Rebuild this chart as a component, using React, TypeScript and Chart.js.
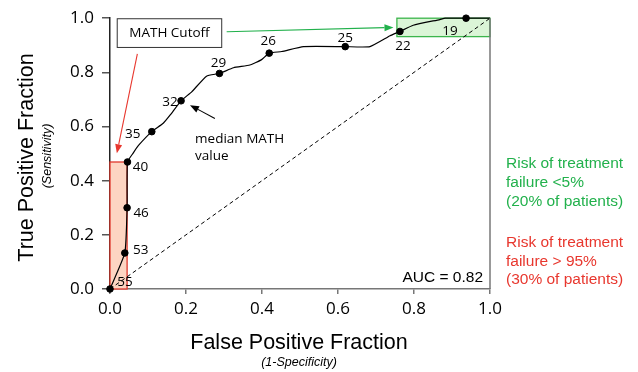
import { useEffect, useRef } from "react";
import { Chart, registerables } from "chart.js";

Chart.register(...registerables);

// ROC curve vertices (False positive fraction, True positive fraction)
const curveX = [0, 0.039, 0.045, 0.046, 0.061, 0.075, 0.11, 0.14, 0.158, 0.187, 0.215, 0.254, 0.288, 0.325, 0.368, 0.399, 0.419, 0.452, 0.509, 0.619, 0.684, 0.737, 0.763, 0.798, 0.868, 0.882, 0.937, 1.0];
const curveY = [0, 0.133, 0.30, 0.469, 0.502, 0.53, 0.581, 0.612, 0.642, 0.695, 0.728, 0.786, 0.796, 0.817, 0.827, 0.847, 0.871, 0.877, 0.895, 0.895, 0.895, 0.935, 0.951, 0.974, 0.995, 1.0, 1.0, 1.0];

// MATH cutoff points
const cutoffLabels = ["55", "53", "46", "40", "35", "32", "29", "26", "25", "22", "19"];
const cutoffX = [0, 0.039, 0.045, 0.046, 0.11, 0.187, 0.288, 0.419, 0.619, 0.763, 0.937];
const cutoffY = [0, 0.133, 0.3, 0.469, 0.581, 0.695, 0.796, 0.871, 0.895, 0.951, 1.0];

// chance line
const diagX = [0, 1];
const diagY = [0, 1];

// shaded zones
const redZoneX = [0, 0.045];
const redZoneY = [0, 0.469];
const greenZoneX = [0.755, 1];
const greenZoneY = [0.932, 1];

const tickValues = [0, 0.2, 0.4, 0.6, 0.8, 1.0];

const xTitle = "False Positive Fraction";
const xSubTitle = "(1-Specificity)";
const yTitle = "True Positive Fraction";
const ySubTitle = "(Sensitivity)";
const aucText = "AUC = 0.82";
const cutoffBoxText = "MATH Cutoff";
const medianText = ["median MATH", "value"];
const greenText = ["Risk of treatment", "failure <5%", "(20% of patients)"];
const redText = ["Risk of treatment", "failure > 95%", "(30% of patients)"];

// label offsets (px) relative to each cutoff point
const labelDx = [15, 16, 14, 13, -19, -11, -1, -1, 0, 3, -16];
const labelDy = [-7, -3, 5, 5, 2, 1, -10, -12, -8, 15, 13];

const SANS = "'Liberation Sans', Arial, sans-serif";
const CAL = "'Open Sans', 'Noto Sans', sans-serif";
const GREEN = "#22b14c";
const RED = "#e8372e";

function arrow(ctx: CanvasRenderingContext2D, x1: number, y1: number, x2: number, y2: number, color: string) {
  const ang = Math.atan2(y2 - y1, x2 - x1);
  const len = 9;
  const hw = 3.5;
  const bx = x2 - len * Math.cos(ang);
  const by = y2 - len * Math.sin(ang);
  ctx.save();
  ctx.strokeStyle = color;
  ctx.fillStyle = color;
  ctx.lineWidth = 1.1;
  ctx.beginPath();
  ctx.moveTo(x1, y1);
  ctx.lineTo(bx, by);
  ctx.stroke();
  ctx.beginPath();
  ctx.moveTo(x2, y2);
  ctx.lineTo(bx + hw * Math.sin(ang), by - hw * Math.cos(ang));
  ctx.lineTo(bx - hw * Math.sin(ang), by + hw * Math.cos(ang));
  ctx.closePath();
  ctx.fill();
  ctx.restore();
}

const decorPlugin = {
  id: "decor",
  beforeDatasetsDraw(chart: any) {
    const ctx = chart.ctx as CanvasRenderingContext2D;
    const xs = chart.scales.x;
    const ys = chart.scales.y;
    const rect = (zx: number[], zy: number[], fill: string, stroke: string) => {
      const x1 = xs.getPixelForValue(zx[0]);
      const x2 = xs.getPixelForValue(zx[1]);
      const y1 = ys.getPixelForValue(zy[1]);
      const y2 = ys.getPixelForValue(zy[0]);
      ctx.save();
      ctx.fillStyle = fill;
      ctx.fillRect(x1, y1, x2 - x1, y2 - y1);
      ctx.strokeStyle = stroke;
      ctx.lineWidth = 1.3;
      ctx.strokeRect(x1, y1, x2 - x1, y2 - y1);
      ctx.restore();
    };
    rect(redZoneX, redZoneY, "#fdd5c2", "#e0392d");
    rect(greenZoneX, greenZoneY, "#dbf5d7", "#3cb54c");
  },
  afterDatasetsDraw(chart: any) {
    const ctx = chart.ctx as CanvasRenderingContext2D;
    const xs = chart.scales.x;
    const ys = chart.scales.y;
    const a = chart.chartArea;
    const px = (v: number) => xs.getPixelForValue(v);
    const py = (v: number) => ys.getPixelForValue(v);

    ctx.save();
    // right border
    ctx.strokeStyle = "#777";
    ctx.lineWidth = 1.5;
    ctx.beginPath();
    ctx.moveTo(a.right, a.top);
    ctx.lineTo(a.right, a.bottom);
    ctx.stroke();

    // cutoff labels
    ctx.fillStyle = "#000";
    ctx.font = `13.5px ${CAL}`;
    ctx.textAlign = "center";
    ctx.textBaseline = "middle";
    cutoffLabels.forEach((t, i) => {
      ctx.fillText(t, px(cutoffX[i]) + labelDx[i], py(cutoffY[i]) + labelDy[i]);
    });

    // MATH Cutoff box
    const bx1 = px(0.019), bx2 = px(0.294), by1 = py(0.998), by2 = py(0.892);
    ctx.fillStyle = "#fff";
    ctx.fillRect(bx1, by1, bx2 - bx1, by2 - by1);
    ctx.strokeStyle = "#333";
    ctx.lineWidth = 1;
    ctx.strokeRect(bx1, by1, bx2 - bx1, by2 - by1);
    ctx.fillStyle = "#000";
    ctx.fillText(cutoffBoxText, (bx1 + bx2) / 2, (by1 + by2) / 2 + 0.5);

    // arrows
    arrow(ctx, px(0.072), py(0.868), px(0.018), py(0.501), RED);
    arrow(ctx, px(0.307), py(0.95), px(0.746), py(0.966), GREEN);
    arrow(ctx, px(0.276), py(0.63), px(0.2105), py(0.679), "#000");

    // median text
    ctx.textAlign = "left";
    ctx.fillStyle = "#000";
    ctx.fillText(medianText[0], px(0.224), py(0.553));
    ctx.fillText(medianText[1], px(0.224), py(0.49));

    // AUC
    ctx.font = `15.5px ${SANS}`;
    ctx.textAlign = "right";
    ctx.fillText(aucText, a.right - 7, a.bottom - 11);

    // right side notes
    ctx.textAlign = "left";
    ctx.fillStyle = GREEN;
    greenText.forEach((t, i) => ctx.fillText(t, a.right + 16, 164 + i * 18.7));
    ctx.fillStyle = RED;
    redText.forEach((t, i) => ctx.fillText(t, a.right + 16, 243 + i * 18.5));

    // axis titles
    ctx.fillStyle = "#000";
    ctx.textAlign = "center";
    ctx.textBaseline = "alphabetic";
    ctx.font = `21.5px ${SANS}`;
    const cx = (a.left + a.right) / 2;
    ctx.fillText(xTitle, cx - 1, 348.5);
    ctx.font = `italic 12.5px ${SANS}`;
    ctx.fillText(xSubTitle, cx - 1, 366);

    ctx.save();
    ctx.translate(33, 157.5);
    ctx.rotate(-Math.PI / 2);
    ctx.font = `21.5px ${SANS}`;
    ctx.fillText(yTitle, 0, 0);
    ctx.restore();
    ctx.save();
    ctx.translate(50.5, 156);
    ctx.rotate(-Math.PI / 2);
    ctx.font = `italic 12.5px ${SANS}`;
    ctx.fillText(ySubTitle, 0, 0);
    ctx.restore();

    ctx.restore();
  },
};

export default function App() {
  const ref = useRef<HTMLCanvasElement>(null);
  useEffect(() => {
    document.body.style.margin = "0";
    const canvas = ref.current!;
    const chart = new Chart(canvas, {
      type: "scatter",
      data: {
        datasets: [
          {
            data: diagX.map((x, i) => ({ x, y: diagY[i] })),
            showLine: true,
            borderColor: "#000",
            borderWidth: 1,
            borderDash: [4, 3],
            pointRadius: 0,
            clip: false,
          } as any,
          {
            data: curveX.map((x, i) => ({ x, y: curveY[i] })),
            showLine: true,
            borderColor: "#000",
            borderWidth: 1.2,
            pointRadius: 0,
            tension: 0.15,
            clip: false,
          } as any,
          {
            data: cutoffX.map((x, i) => ({ x, y: cutoffY[i] })),
            showLine: false,
            backgroundColor: "#000",
            borderColor: "#000",
            pointRadius: 3.3,
            clip: false,
          } as any,
        ],
      },
      options: {
        animation: false,
        responsive: true,
        maintainAspectRatio: false,
        layout: { padding: { left: 0, top: 15.5, right: 148, bottom: 0 } },
        plugins: { legend: { display: false }, tooltip: { enabled: false } },
        scales: {
          x: {
            type: "linear",
            min: 0,
            max: 1,
            afterBuildTicks: (s: any) => {
              s.ticks = tickValues.map((v) => ({ value: v }));
            },
            afterFit: (s: any) => {
              s.height = 83;
            },
            ticks: {
              callback: (v: any) => Number(v).toFixed(1),
              font: { family: CAL, size: 17 },
              color: "#000",
              padding: 5,
              maxRotation: 0,
            },
            grid: { drawOnChartArea: false, drawTicks: true, tickLength: 5, color: "#777", lineWidth: 1.5 },
            border: { color: "#777", width: 1.5 },
          },
          y: {
            type: "linear",
            min: 0,
            max: 1,
            afterBuildTicks: (s: any) => {
              s.ticks = tickValues.map((v) => ({ value: v }));
            },
            afterFit: (s: any) => {
              s.width = 110;
            },
            ticks: {
              callback: (v: any) => Number(v).toFixed(1),
              font: { family: CAL, size: 17 },
              color: "#000",
              padding: 8,
            },
            grid: { drawOnChartArea: false, drawTicks: true, tickLength: 8, color: "#555", lineWidth: 1.5 },
            border: { color: "#222", width: 1.5 },
          },
        },
      },
      plugins: [decorPlugin],
    });
    return () => chart.destroy();
  }, []);
  return (
    <div style={{ position: "relative", width: 638, height: 372 }}>
      <canvas ref={ref} />
    </div>
  );
}
